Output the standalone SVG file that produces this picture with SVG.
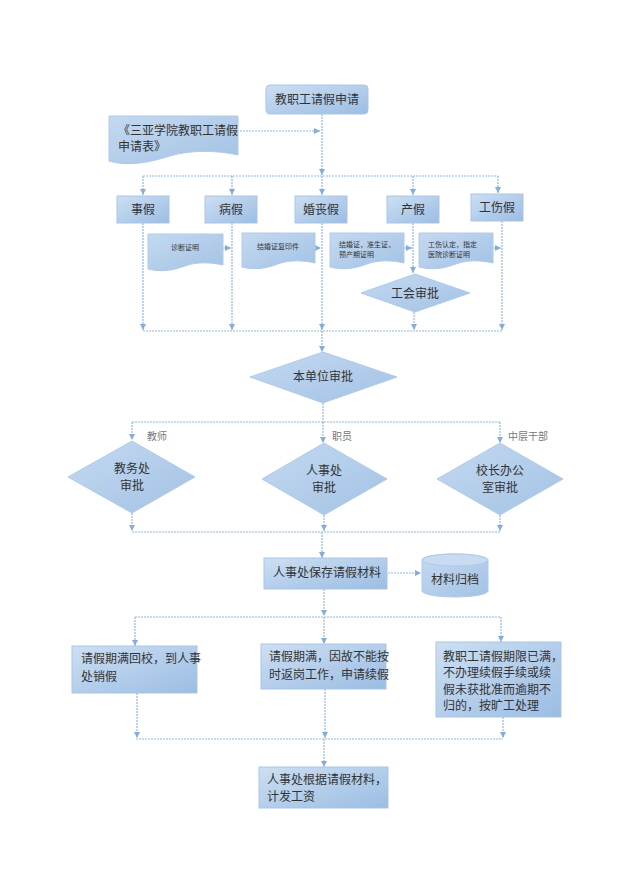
<svg xmlns="http://www.w3.org/2000/svg" width="632" height="894" viewBox="0 0 632 894">
<defs>
<linearGradient id="g" x1="0" y1="0" x2="1" y2="1">
<stop offset="0" stop-color="#cddff3"/>
<stop offset="1" stop-color="#9bbde3"/>
</linearGradient>
<linearGradient id="gd" x1="0" y1="0" x2="1" y2="1">
<stop offset="0" stop-color="#c4d9f0"/>
<stop offset="1" stop-color="#a3c2e5"/>
</linearGradient>
<marker id="ar" markerUnits="userSpaceOnUse" markerWidth="8" markerHeight="8" refX="7" refY="4" orient="auto">
<path d="M1,1 L7,4 L1,7 Z" fill="#86acd8"/>
</marker>
</defs>
<style>
.box{fill:url(#g);stroke:#a9c5e6;stroke-width:1}
.shape{fill:url(#gd);stroke:#b0cae8;stroke-width:1}
.t{font-family:"Liberation Sans","Noto Sans CJK SC",sans-serif;font-size:12px;fill:#333}
.c{text-anchor:middle}
.s{font-size:7px}
.lab{font-family:"Liberation Serif","Noto Sans CJK SC",serif;font-size:10px;fill:#777}
#connectors path{fill:none;stroke:#93b7df;stroke-width:1.2;stroke-dasharray:2,1}
#connectors path.a{marker-end:url(#ar)}
</style>
<rect width="632" height="894" fill="#fff"/>
<g id="connectors">
<path class="a" d="M322,114 V175"/>
<path d="M143,176 H498"/>
<path class="a" d="M143,176 V195"/>
<path class="a" d="M232,176 V195"/>
<path class="a" d="M322,176 V195"/>
<path class="a" d="M413,176 V195"/>
<path class="a" d="M498,176 V193"/>
<path class="a" d="M240,131 H320"/>
<path class="a" d="M143,223 V330"/>
<path class="a" d="M232,223 V330"/>
<path class="a" d="M322,223 V330"/>
<path class="a" d="M413,223 V273"/>
<path class="a" d="M414,312 V330"/>
<path class="a" d="M502,221 V330"/>
<path d="M143,331 H503"/>
<path class="a" d="M322,331 V352"/>
<path class="a" d="M223,248 H231"/>
<path class="a" d="M315,248 H321"/>
<path class="a" d="M404,248 H412"/>
<path class="a" d="M493,248 H501"/>
<path d="M323,403 V422"/>
<path d="M132,422 H500"/>
<path class="a" d="M132,422 V440"/>
<path class="a" d="M323,422 V443"/>
<path class="a" d="M500,422 V443"/>
<path class="a" d="M132,513 V531"/>
<path class="a" d="M324,515 V531"/>
<path class="a" d="M500,515 V531"/>
<path d="M132,532 H500"/>
<path class="a" d="M322,532 V558"/>
<path class="a" d="M388,573 H421"/>
<path class="a" d="M324,589 V616"/>
<path d="M135,617 H501"/>
<path class="a" d="M135,617 V646"/>
<path class="a" d="M324,617 V644"/>
<path class="a" d="M501,617 V642"/>
<path class="a" d="M137,693 V738"/>
<path class="a" d="M325,689 V738"/>
<path class="a" d="M503,717 V738"/>
<path d="M136,739 H503"/>
<path class="a" d="M324,739 V767"/>
</g>
<g id="n-apply">
<rect class="box" x="266" y="85" width="102" height="29" rx="4"/>
<text class="t c" x="317" y="104">教职工请假申请</text>
</g>
<g id="n-form">
<path class="shape" d="M109,116 H238 V155 C215,150 190,150 170,156 C145,164 125,166 109,161 Z"/>
<text class="t" x="118" y="135">《三亚学院教职工请假</text>
<text class="t" x="118" y="151">申请表》</text>
</g>
<g id="n-shijia">
<rect class="box" x="117" y="196" width="52" height="27"/>
<text class="t c" x="143" y="214">事假</text>
</g>
<g id="n-bingjia">
<rect class="box" x="205" y="196" width="52" height="27"/>
<text class="t c" x="231" y="214">病假</text>
</g>
<g id="n-hunsang">
<rect class="box" x="295" y="196" width="52" height="27"/>
<text class="t c" x="321" y="214">婚丧假</text>
</g>
<g id="n-chanjia">
<rect class="box" x="387" y="196" width="52" height="27"/>
<text class="t c" x="413" y="214">产假</text>
</g>
<g id="n-gongshang">
<rect class="box" x="471" y="194" width="52" height="27"/>
<text class="t c" x="497" y="212">工伤假</text>
</g>
<g id="n-doc1">
<path class="shape" d="M148,234 H223 V265 C210,262 195,262 185,266 C172,271 160,272 148,269 Z"/>
<text class="t s c" x="185" y="250">诊断证明</text>
</g>
<g id="n-doc2">
<path class="shape" d="M242,233 H315 V263 C302,260 288,260 278,264 C265,269 253,270 242,267 Z"/>
<text class="t s c" x="278" y="249">结婚证复印件</text>
</g>
<g id="n-doc3">
<path class="shape" d="M330,233 H404 V263 C391,260 377,260 367,264 C354,269 342,270 330,267 Z"/>
<text class="t s" x="339" y="247">结婚证，准生证，</text>
<text class="t s" x="339" y="257">预产期证明</text>
</g>
<g id="n-doc4">
<path class="shape" d="M419,233 H493 V263 C480,260 466,260 456,264 C443,269 431,270 419,267 Z"/>
<text class="t s" x="428" y="247">工伤认定，指定</text>
<text class="t s" x="428" y="257">医院诊断证明</text>
</g>
<g id="n-union">
<path class="shape" d="M415,274 L470,293 L415,312 L361,293 Z"/>
<text class="t c" x="415" y="298">工会审批</text>
</g>
<g id="n-unit">
<path class="shape" d="M323,352 L397,377 L323,403 L250,377 Z"/>
<text class="t c" x="323" y="381">本单位审批</text>
</g>
<text class="lab" x="147" y="440">教师</text>
<text class="lab" x="332" y="440">职员</text>
<text class="lab" x="508" y="440">中层干部</text>
<g id="n-jiaowu">
<path class="shape" d="M132,441 L195,477 L132,513 L68,477 Z"/>
<text class="t c" x="132" y="473">教务处</text>
<text class="t c" x="132" y="490">审批</text>
</g>
<g id="n-renshi">
<path class="shape" d="M324,443 L387,479 L324,515 L262,479 Z"/>
<text class="t c" x="324" y="475">人事处</text>
<text class="t c" x="324" y="492">审批</text>
</g>
<g id="n-xiaozhang">
<path class="shape" d="M500,443 L563,479 L500,515 L437,479 Z"/>
<text class="t c" x="500" y="475">校长办公</text>
<text class="t c" x="500" y="492">室审批</text>
</g>
<g id="n-save">
<rect class="box" x="264" y="558" width="123" height="31"/>
<text class="t" x="273" y="577">人事处保存请假材料</text>
</g>
<g id="n-archive">
<path class="shape" d="M422,560 V591 A33,6 0 0 0 488,591 V560 A33,6 0 0 0 422,560 Z"/>
<ellipse cx="455" cy="560" rx="33" ry="6" fill="#c8dbf1" stroke="#b0cae8"/>
<text class="t c" x="455" y="584">材料归档</text>
</g>
<g id="n-back">
<rect class="box" x="72" y="646" width="125" height="47"/>
<text class="t" x="81" y="663">请假期满回校，到人事</text>
<text class="t" x="81" y="681">处销假</text>
</g>
<g id="n-extend">
<rect class="box" x="261" y="644" width="125" height="45"/>
<text class="t" x="269" y="661">请假期满，因故不能按</text>
<text class="t" x="269" y="679">时返岗工作，申请续假</text>
</g>
<g id="n-absent">
<rect class="box" x="436" y="642" width="125" height="75"/>
<text class="t" x="443" y="661">教职工请假期限已满，</text>
<text class="t" x="443" y="677">不办理续假手续或续</text>
<text class="t" x="443" y="694">假未获批准而逾期不</text>
<text class="t" x="443" y="710">归的，按旷工处理</text>
</g>
<g id="n-salary">
<rect class="box" x="259" y="767" width="129" height="41"/>
<text class="t" x="267" y="784">人事处根据请假材料，</text>
<text class="t" x="267" y="801">计发工资</text>
</g>
</svg>
